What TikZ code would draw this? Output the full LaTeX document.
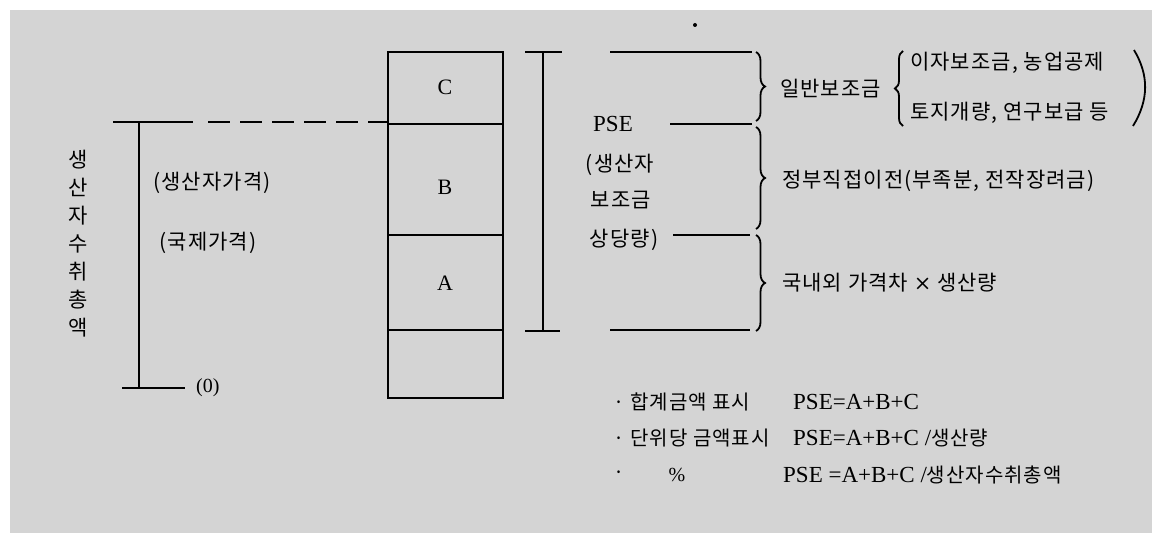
\documentclass[tikz,border=0pt]{standalone}
\usepackage{fontspec}
\setmainfont{Liberation Serif}
\newfontfamily\kr[LetterSpace=5]{Noto Sans CJK KR}
\usetikzlibrary{decorations.pathreplacing}
\tikzset{
  ln/.style={line width=1.8pt},
  krt/.style={inner sep=0pt, font=\kr\fontsize{21}{25}\selectfont},
  krs/.style={inner sep=0pt, font=\kr\fontsize{20}{24}\selectfont},
  lat/.style={inner sep=0pt, font=\fontsize{23}{26}\selectfont},
  brc/.style={line width=1.8pt, decorate, decoration={brace, amplitude=9pt}},
}
\begin{document}
\begin{tikzpicture}[x=1pt,y=-1pt]
\useasboundingbox (0,0) rectangle (1163,537);
\fill[black!17] (10,10) rectangle (1152,533);
% left scale
\coordinate (t0) at (113,122);
\coordinate (t1) at (193,122);
\coordinate (d0) at (208,122);
\coordinate (v0) at (139,122);
\coordinate (v1) at (139,388);
\coordinate (b0) at (122,388);
\coordinate (b1) at (185,388);
\draw[ln] (t0) -- (t1);
\draw[ln, dash pattern=on 22pt off 10pt] (d0) -- (388,122);
\draw[ln] (v0) -- (v1);
\draw[ln] (b0) -- (b1);
\node[lat, font=\fontsize{20}{24}\selectfont, anchor=west] (zero) at (196,388) {(0)};
\node[krt, align=center, font=\kr\fontsize{21}{28}\selectfont] (vt) at (78,244) {생\\산\\자\\수\\취\\총\\액};
\node[krt] (pp) at (212,183) {(생산자가격)};
\node[krt] (ip) at (208,243) {(국제가격)};
% box
\node[draw, line width=1.8pt, minimum width=115pt, minimum height=346pt, inner sep=0pt] (box) at (445.5,225) {};
\draw[ln] (388,124) -- (503,124);
\draw[ln] (388,235) -- (503,235);
\draw[ln] (388,330) -- (503,330);
\node[lat, font=\fontsize{22}{26}\selectfont] (C) at (445,87) {C};
\node[lat, font=\fontsize{22}{26}\selectfont] (B) at (445,187) {B};
\node[lat, font=\fontsize{22}{26}\selectfont] (A) at (445,283) {A};
% PSE bar
\coordinate (p0) at (543,52);
\coordinate (p1) at (543,331);
\draw[ln] (p0) -- (p1);
\draw[ln] (525,52) -- (562,52);
\draw[ln] (525,331) -- (560,331);
\fill (695,25) circle (2pt);
\node[lat] (pse) at (613,124) {PSE};
\node[krt] (pse1) at (620,165) {(생산자};
\node[krt] (pse2) at (621,200) {보조금};
\node[krt] (pse3) at (624,240) {상당량)};
% right lines
\draw[ln] (610,52) -- (752,52);
\draw[ln] (670,124) -- (752,124);
\draw[ln] (673,235) -- (750,235);
\draw[ln] (610,330) -- (750,330);
% braces
\draw[brc] (756,52) -- (756,121);
\draw[brc] (756,127) -- (756,229);
\draw[brc] (756,235) -- (756,331);
\node[krt, anchor=west] (g1) at (780,89) {일반보조금};
\draw[brc, decoration={brace, amplitude=8pt}] (903,126) -- (903,51);
\node[krt, anchor=west] (g1a) at (910,63) {이자보조금, 농업공제};
\node[krt, anchor=west] (g1b) at (910,113) {토지개량, 연구보급 등};
\draw[ln] (1134,50) .. controls (1149,75) and (1149,100) .. (1133,126);
\node[krt, anchor=west] (g2) at (782,181) {정부직접이전(부족분, 전작장려금)};
\node[krt, anchor=west] (g3) at (782,283) {국내외 가격차 {\fontspec{DejaVu Serif}×} 생산량};
% formulas
\node[krs, anchor=west] (f1) at (613,402) {·\hspace{6pt}합계금액 표시};
\node[lat, anchor=west] (f1r) at (793,402) {PSE=A+B+C};
\node[krs, anchor=west] (f2) at (613,438) {·\hspace{6pt}단위당 금액표시};
\node[lat, anchor=west] (f2r) at (793,438) {PSE=A+B+C /{\kr\fontsize{20}{24}\selectfont 생산량}};
\node[krs, anchor=west] (f3) at (613,475) {·};
\node[lat, font=\fontsize{20}{24}\selectfont] (pct) at (677,475) {\%};
\node[lat, anchor=west] (f3r) at (783,475) {PSE =A+B+C /{\kr\fontsize{20}{24}\selectfont 생산자수취총액}};
\end{tikzpicture}
\end{document}
